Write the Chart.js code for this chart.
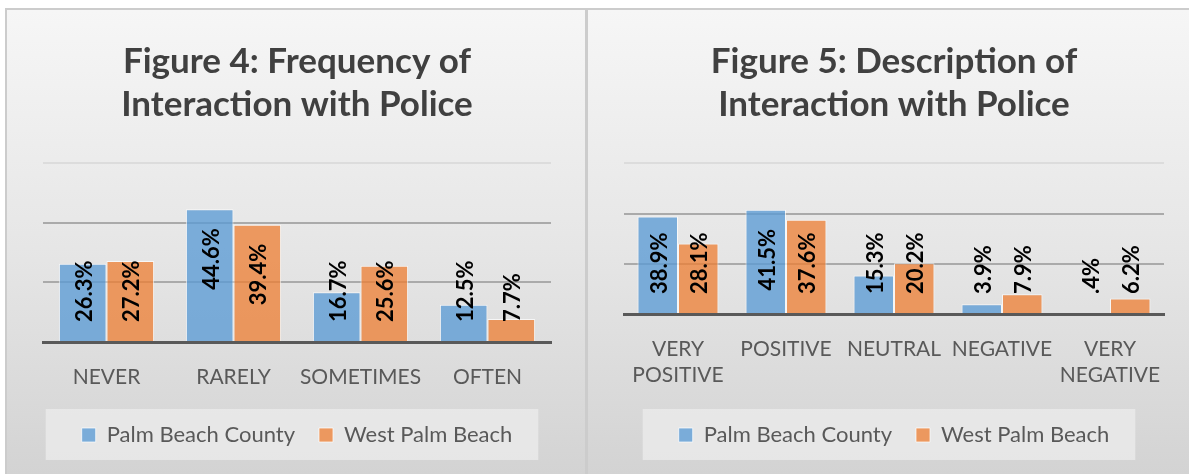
<!DOCTYPE html>
<html>
<head>
<meta charset="utf-8">
<script src="https://cdn.jsdelivr.net/npm/chart.js@4"></script>
<style>
  html, body { margin: 0; padding: 0; background: #fff; overflow: hidden; }
  .panel {
    position: absolute; top: 8px; height: 480px;
    border: 2px solid #cccccc; box-sizing: border-box;
    background: linear-gradient(to bottom, #f6f6f6 0%, #e6e6e6 50%, #d2d2d2 100%);
  }
  #p1 { left: 5px; width: 582px; }
  #p2 { left: 586px; width: 614px; }
  canvas { position: absolute; left: 0; top: 0; }
</style>
</head>
<body>
<div class="panel" id="p1"><canvas id="freqChart" width="580" height="470"></canvas></div>
<div class="panel" id="p2"><canvas id="descChart" width="612" height="470"></canvas></div>
<script>
// Data for charts
const freqCategories = ['NEVER', 'RARELY', 'SOMETIMES', 'OFTEN'];
const freqCounty = [26.3, 44.6, 16.7, 12.5];
const freqWestPalm = [27.2, 39.4, 25.6, 7.7];

const descCategories = [['VERY', 'POSITIVE'], 'POSITIVE', 'NEUTRAL', 'NEGATIVE', ['VERY', 'NEGATIVE']];
const descCounty = [38.9, 41.5, 15.3, 3.9, 0.4];
const descWestPalm = [28.1, 37.6, 20.2, 7.9, 6.2];

const seriesNames = ['Palm Beach County', 'West Palm Beach'];
const yTicks = [0, 20, 40, 60];

const FONT = 'Lato, "Open Sans", sans-serif';
const blue = 'rgba(91, 155, 213, 0.78)';
const orange = 'rgba(237, 125, 49, 0.75)';

function pct(v) {
  return v.toFixed(1).replace(/^0\./, '.') + '%';
}

// grey box behind the legend items
const legendBox = {
  id: 'legendBox',
  beforeDraw(chart) {
    const lg = chart.legend;
    if (!lg || !lg.legendHitBoxes.length) return;
    const first = lg.legendHitBoxes[0];
    const last = lg.legendHitBoxes[lg.legendHitBoxes.length - 1];
    const cy = first.top + first.height / 2;
    const ctx = chart.ctx;
    ctx.save();
    ctx.fillStyle = 'rgba(236, 236, 236, 0.75)';
    ctx.fillRect(first.left - 36, cy - 26, last.left + last.width - first.left + 62, 51);
    ctx.restore();
  }
};

// rotated value labels inside the bars
const barLabels = {
  id: 'barLabels',
  afterDatasetsDraw(chart) {
    const ctx = chart.ctx;
    ctx.save();
    ctx.font = 'bold 22px ' + FONT;
    ctx.fillStyle = '#000';
    ctx.textAlign = 'left';
    ctx.textBaseline = 'middle';
    chart.data.datasets.forEach((ds, i) => {
      chart.getDatasetMeta(i).data.forEach((bar, j) => {
        const txt = pct(ds.data[j]);
        const w = ctx.measureText(txt).width;
        const bottom = Math.min(bar.y + 19 + w, bar.base - 19);
        ctx.save();
        ctx.translate(bar.x + 2, bottom);
        ctx.rotate(-Math.PI / 2);
        ctx.fillText(txt, 0, 0);
        ctx.restore();
      });
    });
    ctx.restore();
  }
};

function makeChart(id, title, labels, county, westPalm, axisHeight, tickPad) {
  return new Chart(document.getElementById(id), {
    type: 'bar',
    data: {
      labels: labels,
      datasets: [
        { label: seriesNames[0], data: county, backgroundColor: blue,
          borderColor: 'rgba(255,255,255,0.7)', borderWidth: 1 },
        { label: seriesNames[1], data: westPalm, backgroundColor: orange,
          borderColor: 'rgba(255,255,255,0.7)', borderWidth: 1 }
      ]
    },
    options: {
      responsive: false,
      animation: false,
      layout: { padding: { left: 36, right: 36, top: 0, bottom: 24 } },
      datasets: { bar: { categoryPercentage: 0.75, barPercentage: 1 } },
      scales: {
        x: {
          grid: { display: false },
          border: { color: '#595959', width: 3 },
          ticks: {
            color: '#595959', padding: tickPad, maxRotation: 0, minRotation: 0, autoSkip: false,
            font: { family: FONT, size: 21, lineHeight: 1.2 }
          },
          afterFit(scale) { scale.height = axisHeight; }
        },
        y: {
          min: yTicks[0],
          max: yTicks[yTicks.length - 1],
          afterBuildTicks(scale) { scale.ticks = yTicks.map(v => ({ value: v })); },
          ticks: { display: false },
          border: { display: false },
          grid: {
            drawTicks: false,
            lineWidth: 2,
            color: (c) => (c.tick && c.tick.value === 60 ? '#dcdcdc' : '#aaaaaa')
          }
        }
      },
      plugins: {
        title: {
          display: true,
          text: title,
          color: '#404040',
          font: { family: FONT, size: 35, weight: 'bold', lineHeight: 1.235 },
          padding: { top: 30, bottom: 37 }
        },
        legend: {
          position: 'bottom',
          labels: {
            color: '#595959',
            boxWidth: 14,
            boxHeight: 14,
            padding: 24,
            font: { family: FONT, size: 22 }
          }
        },
        tooltip: { enabled: false }
      }
    },
    plugins: [legendBox, barLabels]
  });
}

makeChart('freqChart', ['Figure 4: Frequency of', 'Interaction with Police'],
  freqCategories, freqCounty, freqWestPalm, 58, 15);
makeChart('descChart', ['Figure 5: Description of', 'Interaction with Police'],
  descCategories, descCounty, descWestPalm, 86, 15);
</script>
</body>
</html>
